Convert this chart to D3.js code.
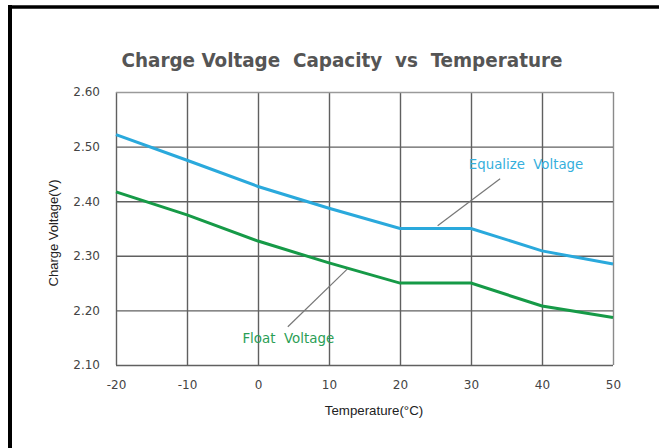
<!DOCTYPE html>
<html>
<head>
<meta charset="utf-8">
<script src="https://cdn.jsdelivr.net/npm/d3@7"></script>
<style>
  body { margin: 0; background: #fff; }
  svg { display: block; }
</style>
</head>
<body>
<svg id="chart" width="659" height="448"></svg>
<script>
// data
const temps = [-20, -10, 0, 10, 20, 30, 40, 50];
const equalizeVolts = [2.522, 2.475, 2.427, 2.387, 2.35, 2.35, 2.309, 2.285];
const floatVolts = [2.417, 2.375, 2.327, 2.287, 2.25, 2.25, 2.208, 2.187];
const xTicks = [-20, -10, 0, 10, 20, 30, 40, 50];
const yTicks = [2.10, 2.20, 2.30, 2.40, 2.50, 2.60];

const svg = d3.select("svg#chart");
const width = +svg.attr("width");
const height = +svg.attr("height");
const margin = {top: 92, right: 46, bottom: 83, left: 116};
const chartWidth = width - margin.left - margin.right;
const chartHeight = height - margin.top - margin.bottom;

// frame lines (top + left only)
svg.append("line")
    .attr("x1", 8).attr("x2", width).attr("y1", 7).attr("y2", 7)
    .style("stroke", "#000").style("stroke-width", 3.5);
svg.append("line")
    .attr("x1", 10).attr("x2", 10).attr("y1", 5).attr("y2", height)
    .style("stroke", "#000").style("stroke-width", 4);

const x = d3.scaleLinear().domain([-20, 50]).range([0, chartWidth]);
const y = d3.scaleLinear().domain([2.10, 2.60]).range([chartHeight, 0]);

let chartArea = svg.append("g")
    .attr("transform", `translate(${margin.left},${margin.top})`);

// gridlines
let xGrid = d3.axisBottom(x).tickValues(xTicks).tickSize(-chartHeight).tickFormat("");
let yGrid = d3.axisLeft(y).tickValues(yTicks).tickSize(-chartWidth).tickFormat("");
chartArea.append("g").attr("class", "xGridlines")
    .attr("transform", `translate(0,${chartHeight})`)
    .call(xGrid);
chartArea.append("g").attr("class", "yGridlines")
    .call(yGrid);
chartArea.selectAll(".domain").remove();
chartArea.selectAll(".xGridlines line, .yGridlines line")
    .style("stroke", "#606060")
    .style("stroke-width", 1.4);
// lighter top + right edges
chartArea.selectAll(".yGridlines .tick").filter(d => d == 2.60)
    .select("line").style("stroke", "#9a9a9a");
chartArea.selectAll(".xGridlines .tick").filter(d => d == 50)
    .select("line").style("stroke", "#8a8a8a");

// tick labels (plain hyphen for negatives, like the picture)
let xAxis = d3.axisBottom(x).tickValues(xTicks).tickSize(0).tickPadding(15)
    .tickFormat(d => String(d));
let yAxis = d3.axisLeft(y).tickValues(yTicks).tickSize(0).tickPadding(16)
    .tickFormat(d3.format(".2f"));
chartArea.append("g").attr("class", "xAxis")
    .attr("transform", `translate(0,${chartHeight})`)
    .call(xAxis);
chartArea.append("g").attr("class", "yAxis")
    .call(yAxis);
chartArea.selectAll(".xAxis .domain, .yAxis .domain").remove();
chartArea.selectAll(".xAxis text, .yAxis text")
    .style("font-family", "'DejaVu Sans'")
    .style("font-size", "12px")
    .style("fill", "#444");

// series
const series = [
    {name: "Equalize", values: equalizeVolts, color: "#2aa9dc"},
    {name: "Float", values: floatVolts, color: "#169a47"}
];
const line = d3.line()
    .x((d, i) => x(temps[i]))
    .y(d => y(d));
chartArea.selectAll("path.series")
    .data(series)
    .join("path")
    .attr("class", "series")
    .attr("d", d => line(d.values))
    .style("fill", "none")
    .style("stroke", d => d.color)
    .style("stroke-width", 3);

// callouts (data coords)
const callouts = [
    {text: "Equalize\u00a0\u00a0Voltage", color: "#35afdc", size: 13.3, lx: 29.7, ly: 2.459, from: [25.3, 2.355], to: [34.1, 2.441]},
    {text: "Float\u00a0\u00a0Voltage", color: "#2a9e55", size: 13.4, lx: -2.2, ly: 2.140, from: [4.2, 2.170], to: [12.6, 2.276]}
];
callouts.forEach(d => {
    chartArea.append("line")
        .attr("x1", x(d.from[0])).attr("y1", y(d.from[1]))
        .attr("x2", x(d.to[0])).attr("y2", y(d.to[1]))
        .style("stroke", "#777")
        .style("stroke-width", 1.2);
    chartArea.append("text")
        .attr("x", x(d.lx))
        .attr("y", y(d.ly))
        .text(d.text)
        .style("font-family", "'DejaVu Sans'")
        .style("font-size", d.size + "px")
        .style("fill", d.color);
});

// title
svg.append("text")
    .attr("x", 342)
    .attr("y", 67)
    .attr("text-anchor", "middle")
    .text("Charge Voltage\u00a0\u00a0Capacity\u00a0\u00a0vs\u00a0\u00a0Temperature")
    .attr("textLength", 441)
    .attr("lengthAdjust", "spacingAndGlyphs")
    .style("font-family", "'DejaVu Sans Condensed', 'DejaVu Sans'")
    .style("font-weight", "bold")
    .style("font-size", "20px")
    .style("fill", "#555");

// axis titles
svg.append("text")
    .attr("x", 374)
    .attr("y", 415)
    .attr("text-anchor", "middle")
    .text("Temperature(°C)")
    .style("font-family", "'Liberation Sans', Arial")
    .style("font-size", "13.3px")
    .style("fill", "#222");
svg.append("text")
    .attr("transform", "translate(58,233) rotate(-90)")
    .attr("text-anchor", "middle")
    .text("Charge Voltage(V)")
    .style("font-family", "'Liberation Sans', Arial")
    .style("font-size", "13px")
    .style("fill", "#222");
</script>
</body>
</html>
